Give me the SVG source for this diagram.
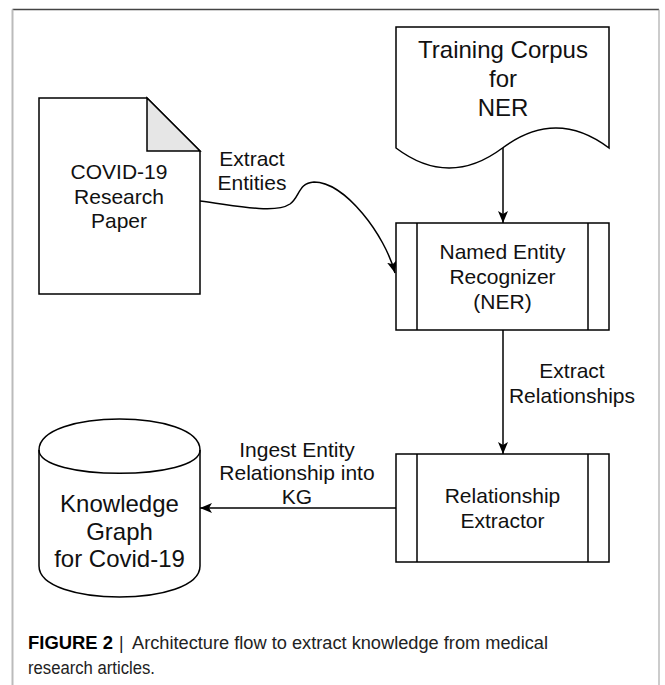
<svg xmlns="http://www.w3.org/2000/svg" width="665" height="685" viewBox="0 0 665 685">
  <defs>
    <marker id="arrow" markerUnits="userSpaceOnUse" markerWidth="14" markerHeight="12" refX="12" refY="5" orient="auto">
      <path d="M0,0 L12,5 L0,10 L3,5 Z" fill="#000"/>
    </marker>
    <style>
      .shape { fill: #fff; stroke: #000; stroke-width: 1.5; }
      .fold { fill: #e6e6e6; stroke: #000; stroke-width: 1.5; stroke-linejoin: miter; }
      .line { fill: none; stroke: #000; stroke-width: 1.5; }
      .edge { fill: none; stroke: #000; stroke-width: 1.5; marker-end: url(#arrow); }
      text { font-family: "Liberation Sans", Arial, sans-serif; fill: #111; text-anchor: middle; }
      .t21 { font-size: 21px; }
      .t24 { font-size: 24px; }
      .cap { font-size: 17.5px; text-anchor: start; fill: #222; }
    </style>
  </defs>

  <rect width="665" height="685" fill="#fff"/>

  <!-- page frame -->
  <g id="frame">
    <line x1="12.5" y1="9.5" x2="659" y2="9.5" stroke="#444" stroke-width="1.5"/>
    <line x1="12.5" y1="9.5" x2="12.5" y2="685" stroke="#bbb" stroke-width="2"/>
    <line x1="659" y1="9.5" x2="659" y2="685" stroke="#aaa" stroke-width="1.2"/>
  </g>

  <!-- connectors -->
  <g id="connectors">
    <path class="edge" d="M200,201 C240,206 275,214 290,204 C300,197 298,183 314,182 C345,182 385,235 395,273"/>
    <line class="edge" x1="503" y1="148" x2="503" y2="223"/>
    <line class="edge" x1="503" y1="330" x2="503" y2="454"/>
    <line class="edge" x1="396" y1="508" x2="200" y2="508"/>
    <text class="t21"><tspan x="252" y="166">Extract</tspan><tspan x="252" y="190">Entities</tspan></text>
    <text class="t21"><tspan x="572" y="378">Extract</tspan><tspan x="572" y="403">Relationships</tspan></text>
    <text class="t21"><tspan x="297" y="457">Ingest Entity</tspan><tspan x="297" y="480">Relationship into</tspan><tspan x="297" y="504">KG</tspan></text>
  </g>

  <!-- training corpus document -->
  <g id="training-corpus">
    <path class="shape" d="M396,27 H609 V148 Q556,108 502.5,148 Q449,188 396,148 Z"/>
    <text class="t24"><tspan x="503" y="58">Training Corpus</tspan><tspan x="503" y="87">for</tspan><tspan x="503" y="116">NER</tspan></text>
  </g>

  <!-- research paper -->
  <g id="research-paper">
    <path class="shape" d="M39,98 H147 L200,151 V294 H39 Z"/>
    <path class="fold" d="M147,98 V151 H200 Z"/>
    <text class="t21"><tspan x="119" y="179">COVID-19</tspan><tspan x="119" y="204">Research</tspan><tspan x="119" y="228">Paper</tspan></text>
  </g>

  <!-- named entity recognizer -->
  <g id="ner">
    <rect class="shape" x="396" y="223" width="213" height="107"/>
    <line class="line" x1="417" y1="223" x2="417" y2="330"/>
    <line class="line" x1="588" y1="223" x2="588" y2="330"/>
    <text class="t21"><tspan x="502.5" y="259">Named Entity</tspan><tspan x="502.5" y="284">Recognizer</tspan><tspan x="502.5" y="309">(NER)</tspan></text>
  </g>

  <!-- relationship extractor -->
  <g id="relationship-extractor">
    <rect class="shape" x="396" y="454" width="213" height="108"/>
    <line class="line" x1="417" y1="454" x2="417" y2="562"/>
    <line class="line" x1="588" y1="454" x2="588" y2="562"/>
    <text class="t21"><tspan x="502.5" y="503">Relationship</tspan><tspan x="502.5" y="528">Extractor</tspan></text>
  </g>

  <!-- knowledge graph store -->
  <g id="knowledge-graph">
    <path class="shape" d="M39,450 C39,408.67 200,408.67 200,450 V566 C200,607.33 39,607.33 39,566 Z"/>
    <path class="line" d="M39,450 C39,481 200,481 200,450"/>
    <text class="t24"><tspan x="119.5" y="512">Knowledge</tspan><tspan x="119.5" y="540">Graph</tspan><tspan x="119.5" y="567">for Covid-19</tspan></text>
  </g>

  <!-- caption -->
  <g id="caption">
    <text class="cap" x="28" y="649"><tspan font-weight="bold" fill="#000" textLength="85" lengthAdjust="spacingAndGlyphs">FIGURE 2</tspan><tspan x="119">|</tspan><tspan x="132" textLength="416" lengthAdjust="spacingAndGlyphs">Architecture flow to extract knowledge from medical</tspan></text>
    <text class="cap" x="28" y="674" textLength="127" lengthAdjust="spacingAndGlyphs">research articles.</text>
  </g>
</svg>
